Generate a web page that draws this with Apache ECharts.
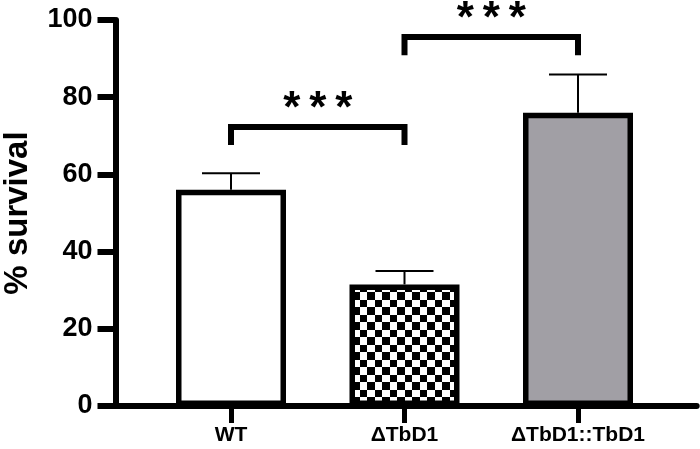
<!DOCTYPE html>
<html>
<head>
<meta charset="utf-8">
<script src="https://cdn.jsdelivr.net/npm/echarts@6/dist/echarts.min.js"></script>
<style>
html,body{margin:0;padding:0;background:#fff;}
#chart{width:700px;height:449px;}
</style>
</head>
<body>
<div id="chart"></div>
<script>
// ---- data ----
const categories = ['WT', 'ΔTbD1', 'ΔTbD1::TbD1'];
const means = [56, 31.5, 76];
const sems = [4.3, 3.5, 9.9];
const yTicks = [0, 20, 40, 60, 80, 100];
const bracketFrom = [0, 1];
const bracketTo = [1, 2];
const bracketTop = [72.3, 95.6];
const bracketBottom = [67.6, 90.9];
const bracketLabels = ['***', '***'];

// checkerboard pattern
function checker() {
  const c = document.createElement('canvas');
  c.width = 15; c.height = 15;
  const ctx = c.getContext('2d');
  ctx.fillStyle = '#fff'; ctx.fillRect(0, 0, 15, 15);
  ctx.fillStyle = '#000';
  ctx.fillRect(0, 0, 7, 7);
  ctx.fillRect(7, 7, 8, 8);
  return c;
}
const fills = ['#ffffff', { image: checker(), repeat: 'repeat' }, '#a19fa5'];

const chart = echarts.init(document.getElementById('chart'), null, { renderer: 'canvas' });
const FONT = 'Liberation Sans, Arial, sans-serif';

const option = {
  animation: false,
  backgroundColor: '#fff',
  grid: [
    { left: 115.5, right: 3.3, top: 20, bottom: 43, containLabel: false, outerBoundsMode: 'none' },
    { left: 144.25, right: 35.25, top: 20, bottom: 43, containLabel: false, outerBoundsMode: 'none' }
  ],
  xAxis: [
    { gridIndex: 0, type: 'value', min: 0, max: 1, splitLine: { show: false },
      axisLine: { show: true, lineStyle: { color: '#000', width: 6 } },
      axisTick: { show: false }, axisLabel: { show: false } },
    { gridIndex: 1, type: 'category', data: categories,
      axisLine: { show: false },
      axisTick: { show: true, alignWithLabel: true, interval: 0, length: 17, lineStyle: { color: '#000', width: 5 } },
      axisLabel: { color: '#000', fontFamily: FONT, fontWeight: 'bold', fontSize: 21, margin: 19, interval: 0 } }
  ],
  yAxis: [
    { gridIndex: 0, type: 'value', min: yTicks[0], max: yTicks[yTicks.length - 1], interval: yTicks[1] - yTicks[0],
      splitLine: { show: false },
      axisLine: { show: true, lineStyle: { color: '#000', width: 6 } },
      axisTick: { show: true, length: 18, lineStyle: { color: '#000', width: 6 } },
      axisLabel: { color: '#000', fontFamily: FONT, fontWeight: 'bold', fontSize: 27, margin: 23 },
      name: '% survival', nameLocation: 'middle', nameGap: 81, nameRotate: 90,
      nameTextStyle: { color: '#000', fontFamily: FONT, fontWeight: 'bold', fontSize: 33 } },
    { gridIndex: 1, type: 'value', min: 0, max: 100, show: false }
  ],
  series: [
    { type: 'bar', xAxisIndex: 1, yAxisIndex: 1, barWidth: 110,
      data: means.map((v, i) => ({ value: v, itemStyle: { color: fills[i] } })),
      itemStyle: { borderColor: '#000', borderWidth: 5.5 } },
    { type: 'custom', xAxisIndex: 1, yAxisIndex: 1, z: 5,
      data: means.map((v, i) => [i, v, v + sems[i]]),
      renderItem: function (params, api) {
        const base = api.coord([api.value(0), api.value(1)]);
        const top = api.coord([api.value(0), api.value(2)]);
        const hw = 29;
        return { type: 'group', children: [
          { type: 'line', shape: { x1: base[0], y1: base[1], x2: top[0], y2: top[1] }, style: { stroke: '#000', lineWidth: 2 } },
          { type: 'line', shape: { x1: top[0] - hw, y1: top[1], x2: top[0] + hw, y2: top[1] }, style: { stroke: '#000', lineWidth: 2 } }
        ] };
      } },
    { type: 'custom', xAxisIndex: 1, yAxisIndex: 1, z: 6,
      data: bracketFrom.map((f, i) => [f, bracketTo[i], bracketTop[i], bracketBottom[i]]),
      encode: { x: [0, 1], y: [2, 3] },
      renderItem: function (params, api) {
        const i = params.dataIndex;
        const a = api.coord([api.value(0), api.value(2)]);
        const b = api.coord([api.value(1), api.value(2)]);
        const a0 = api.coord([api.value(0), api.value(3)]);
        const b0 = api.coord([api.value(1), api.value(3)]);
        const children = [
          { type: 'polyline', shape: { points: [a0, a, b, b0] }, style: { stroke: '#000', lineWidth: 6, fill: null, lineJoin: 'miter' } }
        ];
        const chars = bracketLabels[i].split('');
        const mid = (a[0] + b[0]) / 2;
        const step = 26;
        chars.forEach((ch, k) => {
          children.push({ type: 'text', x: mid + (k - (chars.length - 1) / 2) * step, y: a[1] - 25 + 8,
            style: { text: ch, fill: '#000', font: 'bold 44px ' + FONT, align: 'center', verticalAlign: 'middle' } });
        });
        return { type: 'group', children: children };
      } }
  ]
};
chart.setOption(option);
</script>
</body>
</html>
